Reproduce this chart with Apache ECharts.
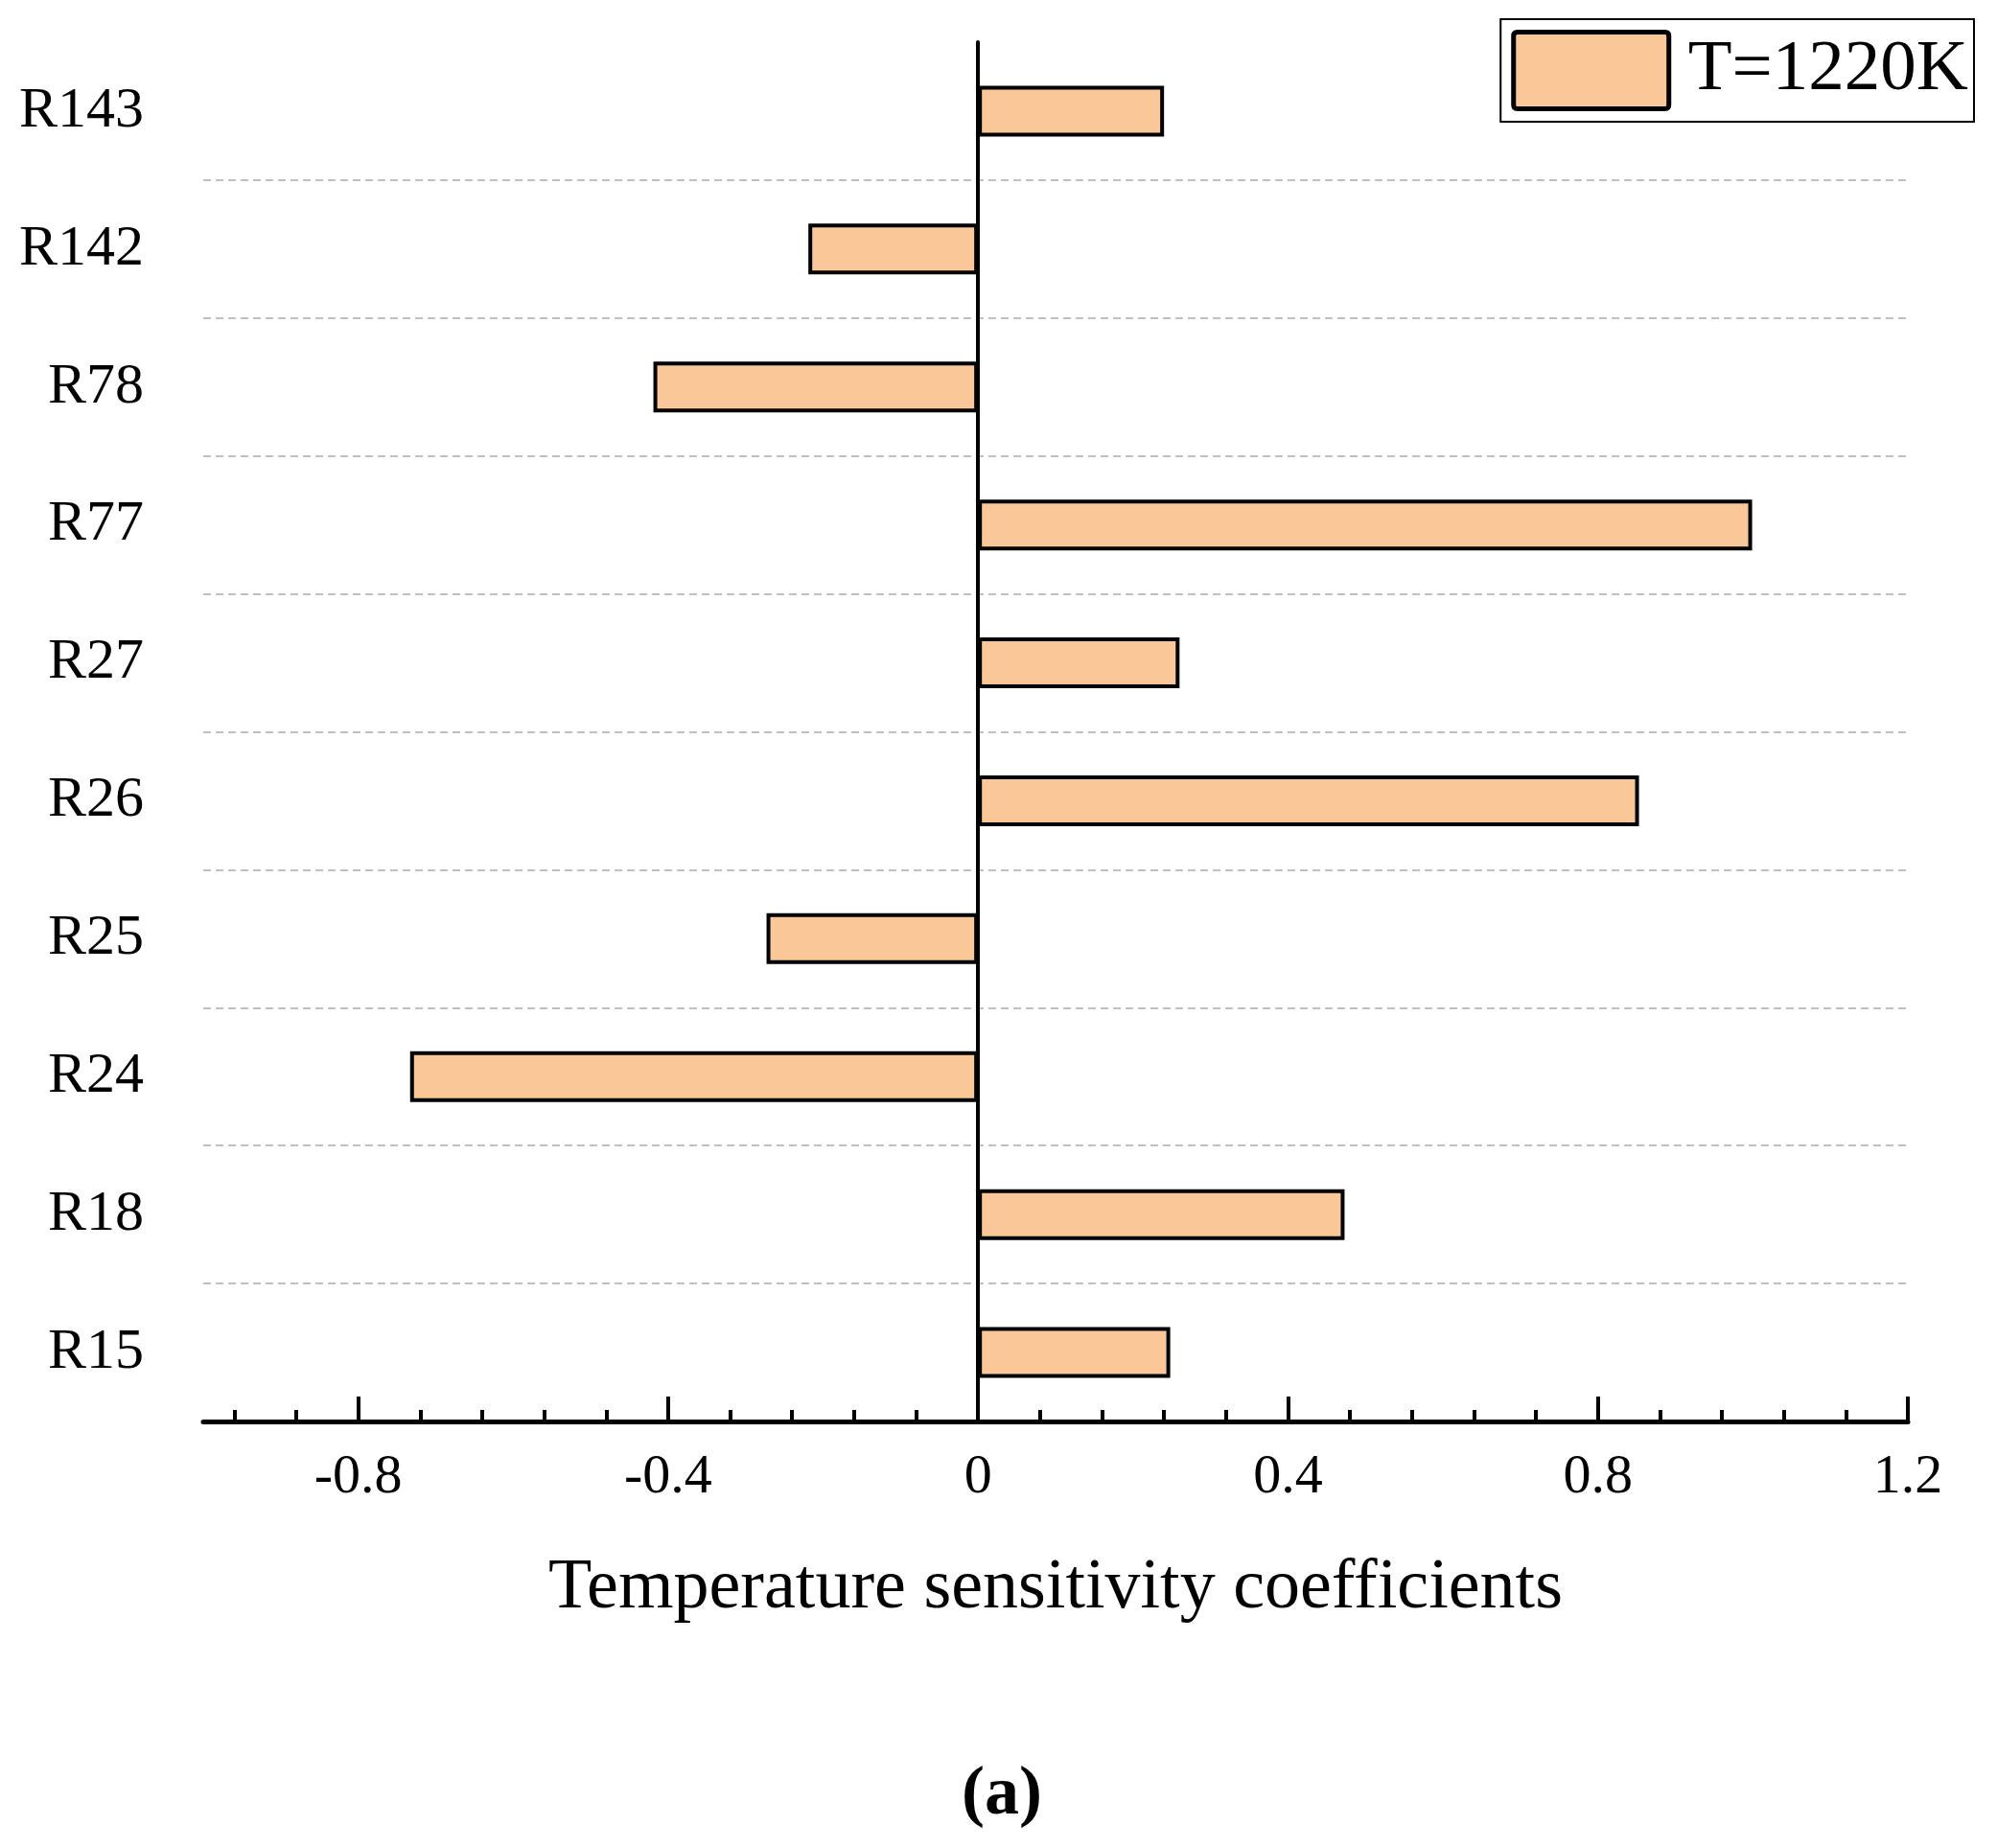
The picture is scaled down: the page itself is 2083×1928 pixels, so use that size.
<!DOCTYPE html>
<html>
<head>
<meta charset="utf-8">
<script src="https://cdn.jsdelivr.net/npm/echarts@6/dist/echarts.min.js"></script>
<style>
  html, body { margin: 0; padding: 0; background: #fff; }
  #sens-chart { width: 2083px; height: 1928px; }
</style>
</head>
<body>
<div id="sens-chart"></div>
<script>
// Sensibilidad a la temperatura - barras horizontales

// Reacciones (de abajo hacia arriba)
const reactions = ["R15", "R18", "R24", "R25", "R26", "R27", "R77", "R78", "R142", "R143"];
// Coeficientes
const coefficients = [0.248, 0.473, -0.733, -0.273, 0.853, 0.26, 0.999, -0.419, -0.219, 0.24];
// Marcas del eje X
const majorTicks = [-0.8, -0.4, 0, 0.4, 0.8, 1.2];
const minorTicks = [-0.96, -0.88, -0.72, -0.64, -0.56, -0.48, -0.32, -0.24, -0.16, -0.08,
  0.08, 0.16, 0.24, 0.32, 0.48, 0.56, 0.64, 0.72, 0.88, 0.96, 1.04, 1.12];
const seriesName = "T=1220K";

const FONT = "'Liberation Serif', 'DejaVu Serif', serif";

const chart = echarts.init(document.getElementById("sens-chart"));

const option = {
  backgroundColor: "#fff",
  animation: false,
  title: {
    text: "{p|(}{b|a}{p|)}",
    left: 1040,
    top: 1832,
    textAlign: "center",
    textStyle: {
      rich: {
        p: { fontFamily: FONT, fontSize: 72, color: "#000" },
        b: { fontFamily: FONT, fontSize: 72, fontWeight: "bold", color: "#000" },
      },
    },
  },
  legend: {
    data: [seriesName],
    right: 24,
    top: 20,
    orient: "vertical",
    // rectangulo con esquinas apenas redondeadas
    icon: "path://M4,0 L158,0 Q162,0 162,4 L162,76 Q162,80 158,80 L4,80 Q0,80 0,76 L0,4 Q0,0 4,0 Z",
    symbolKeepAspect: false,
    itemWidth: 162,
    itemHeight: 80,
    padding: [11, 6, 11, 11],
    borderColor: "#000",
    borderWidth: 2,
    itemStyle: { color: "#FAC898", borderColor: "#000", borderWidth: 5 },
    textStyle: {
      fontFamily: FONT,
      fontSize: 75,
      color: "#000",
      padding: [0, 0, 0, 15],
    },
  },
  grid: {
    left: 212,
    right: 93,
    top: 44,
    bottom: 445,
  },
  xAxis: [
    {
      type: "value",
      min: -1,
      max: 1.2,
      name: "Temperature sensitivity coefficients",
      nameLocation: "middle",
      nameGap: 138,
      nameTextStyle: { fontFamily: FONT, fontSize: 74, color: "#000" },
      axisLine: { show: true, onZero: false, lineStyle: { color: "#000", width: 5 } },
      axisTick: {
        show: true,
        inside: true,
        length: 26,
        customValues: majorTicks,
        lineStyle: { color: "#000", width: 4 },
      },
      axisLabel: {
        customValues: majorTicks,
        margin: 30,
        fontFamily: FONT,
        fontSize: 58,
        color: "#000",
        formatter: function (v) {
          return v === 0 ? "0" : String(Math.round(v * 10) / 10);
        },
      },
      splitLine: { show: false },
    },
    {
      type: "value",
      min: -1,
      max: 1.2,
      position: "bottom",
      axisLine: { show: false },
      axisTick: {
        show: true,
        inside: true,
        length: 12,
        customValues: minorTicks,
        lineStyle: { color: "#000", width: 4 },
      },
      axisLabel: { show: false },
      splitLine: { show: false },
    },
  ],
  yAxis: [
    {
      type: "category",
      data: reactions,
      axisLine: { show: false },
      axisTick: { show: false },
      axisLabel: {
        margin: 62,
        fontFamily: FONT,
        fontSize: 60,
        color: "#000",
      },
      splitLine: {
        show: true,
        showMinLine: false,
        showMaxLine: false,
        lineStyle: { color: "#c0c0c0", width: 2, type: [8, 5] },
      },
    },
    {
      // linea vertical en cero
      type: "category",
      data: reactions,
      position: "left",
      axisLine: { show: true, onZero: true, onZeroAxisIndex: 0, lineStyle: { color: "#000", width: 4 } },
      axisTick: { show: false },
      axisLabel: { show: false },
      splitLine: { show: false },
    },
  ],
  series: [
    {
      name: seriesName,
      type: "bar",
      xAxisIndex: 0,
      yAxisIndex: 0,
      barWidth: 53,
      data: coefficients,
      itemStyle: {
        color: "#FAC898",
        borderColor: "#000",
        borderWidth: 4,
      },
    },
  ],
};

chart.setOption(option);
</script>
</body>
</html>
